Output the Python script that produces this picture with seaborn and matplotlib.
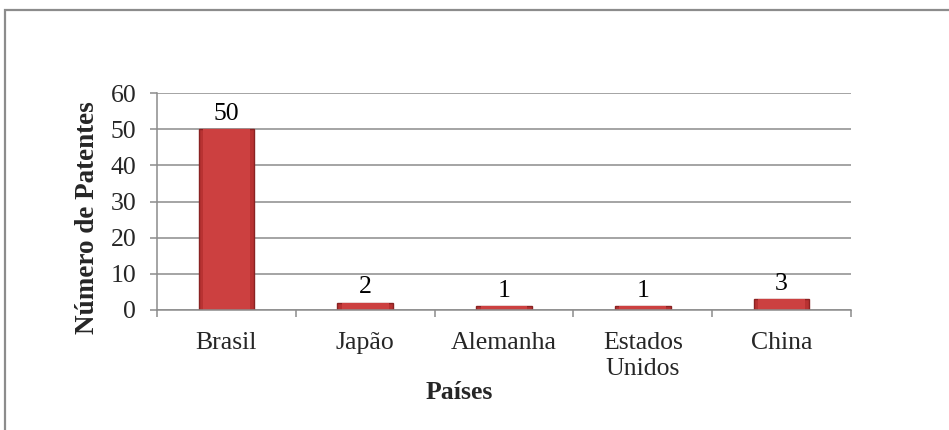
import matplotlib
matplotlib.use("Agg")
import matplotlib.pyplot as plt
from matplotlib.patches import Rectangle
from matplotlib.ticker import FixedLocator
import seaborn as sns
import pandas as pd

paises = ["Brasil", "Japão", "Alemanha", "Estados\nUnidos", "China"]
patentes = [50, 2, 1, 1, 3]
yticks = [0, 10, 20, 30, 40, 50, 60]

df = pd.DataFrame({"pais": paises, "n": patentes})

sns.set_theme(style="white")
plt.rcParams["font.family"] = ["Liberation Serif", "DejaVu Serif"]

fig = plt.figure(figsize=(9.49, 4.30), dpi=100)
ax = fig.add_axes([157 / 949, 1 - 310 / 430, 694 / 949, 217 / 430])

sns.barplot(data=df, x="pais", y="n", ax=ax, color="#B83232",
            width=0.4, edgecolor="#8A2222", linewidth=1.0, saturation=1)

# lighter inner face to give a bevelled look
for p in ax.patches:
    x, y = p.get_x(), p.get_y()
    w, h = p.get_width(), p.get_height()
    ax.add_patch(Rectangle((x + w * 0.08, y), w * 0.84, h, facecolor="#CC4040",
                           edgecolor="none", zorder=p.get_zorder() + 0.1))

ax.set_ylim(0, 60)
ax.set_xlim(-0.5, len(paises) - 0.5)
ax.set_yticks(yticks)
ax.yaxis.grid(True, color="#8C8C8C", linewidth=1.1)
ax.set_axisbelow(True)

for s in ["top", "right"]:
    ax.spines[s].set_visible(False)
for s in ["left", "bottom"]:
    ax.spines[s].set_color("#8C8C8C")
    ax.spines[s].set_linewidth(1.1)

ax.tick_params(axis="y", which="major", length=5, width=1.1, color="#8C8C8C",
               pad=10, labelsize=18.5, left=True)
ax.tick_params(axis="x", which="major", length=0, pad=16, labelsize=18.5)
ax.xaxis.set_minor_locator(FixedLocator([i - 0.5 for i in range(len(paises) + 1)]))
ax.tick_params(axis="x", which="minor", length=5, width=1.1, color="#8C8C8C",
               bottom=True)
for lab in ax.get_xticklabels():
    lab.set_linespacing(1.25)

for i, v in enumerate(patentes):
    ax.text(i, v + 1.2, str(v), ha="center", va="bottom", fontsize=18.5,
            color="black")

ax.set_xlabel("Países", fontsize=18.5, fontweight="bold")
ax.set_ylabel("Número de Patentes", fontsize=19.5, fontweight="bold")
ax.xaxis.set_label_coords((459 - 157) / 694, (310 - 393) / 217)
ax.xaxis.label.set_va("center")
ax.yaxis.set_label_coords((87 - 157) / 694, (310 - 218) / 217)
ax.yaxis.label.set_va("center")

# outer chart-area frame
fig.patches.append(Rectangle((4.5 / 949, -0.2), 1.2, 1.2 - 9.5 / 430,
                             transform=fig.transFigure, fill=False,
                             edgecolor="#8C8C8C", linewidth=1.6))

fig.savefig("out.png", dpi=100)
